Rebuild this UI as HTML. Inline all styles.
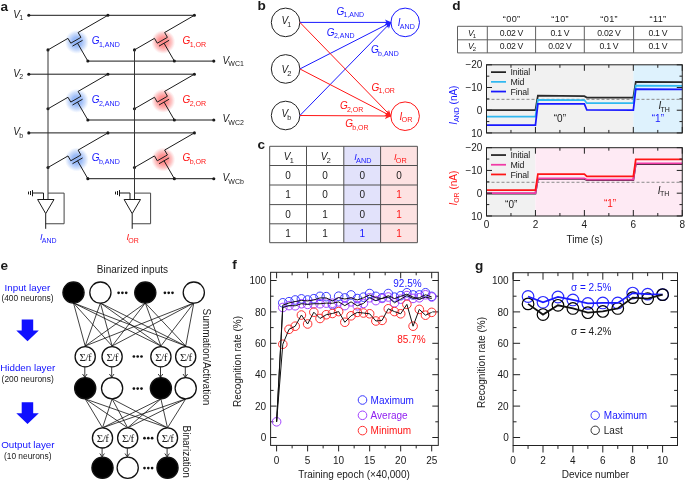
<!DOCTYPE html>
<html><head><meta charset="utf-8"><style>
html,body{margin:0;padding:0;background:#fff;}
body{width:685px;height:480px;overflow:hidden;position:relative;font-family:"Liberation Sans", sans-serif;}
svg{will-change:transform;}
svg text{font-family:"Liberation Sans", sans-serif;}
</style></head><body>
<svg width="685" height="480" viewBox="0 0 685 480" style="position:absolute;left:0;top:0">
<defs>
<radialGradient id="gb"><stop offset="0" stop-color="#8eb2f6" stop-opacity="1"/><stop offset="0.4" stop-color="#98b9f7" stop-opacity="0.95"/><stop offset="0.72" stop-color="#a8c4f8" stop-opacity="0.55"/><stop offset="1" stop-color="#b8d0fa" stop-opacity="0"/></radialGradient>
<radialGradient id="gr"><stop offset="0" stop-color="#ff8585" stop-opacity="1"/><stop offset="0.4" stop-color="#ff8f8f" stop-opacity="0.95"/><stop offset="0.72" stop-color="#fc9c9c" stop-opacity="0.55"/><stop offset="1" stop-color="#fcb4b4" stop-opacity="0"/></radialGradient>
<marker id="ab" viewBox="0 0 10 10" refX="9" refY="5" markerWidth="7.4" markerHeight="6.6" orient="auto-start-reverse" markerUnits="userSpaceOnUse"><path d="M0,0.5 L10,5 L0,9.5 L2.5,5 z" fill="#2020ff"/></marker>
<marker id="ar" viewBox="0 0 10 10" refX="9" refY="5" markerWidth="7.4" markerHeight="6.6" orient="auto-start-reverse" markerUnits="userSpaceOnUse"><path d="M0,0.5 L10,5 L0,9.5 L2.5,5 z" fill="#ff2020"/></marker>
<marker id="ak" viewBox="0 0 10 10" refX="9" refY="5" markerWidth="4" markerHeight="4" orient="auto" markerUnits="userSpaceOnUse"><path d="M0,0 L10,5 L0,10 L3,5 z" fill="#111"/></marker>
</defs>
<text x="0.4" y="10.6" font-size="13.6" fill="#1a1a1a" text-anchor="start" font-weight="bold" font-style="normal" >a</text>
<line x1="28.8" y1="15.3" x2="194.4" y2="15.3" stroke="#1a1a1a" stroke-width="1" />
<circle cx="28.8" cy="15.3" r="1.55" fill="#1a1a1a"/>
<circle cx="107.9" cy="15.3" r="1.55" fill="#1a1a1a"/>
<circle cx="194.4" cy="15.3" r="1.55" fill="#1a1a1a"/>
<circle cx="76.79" cy="41.92" r="12" fill="url(#gb)"/>
<polyline points="107.9,15.3 78.11,32.5 80.91,37.35 70.78,43.2 67.98,38.35 47.97,49.9" fill="none" stroke="#1a1a1a" stroke-width="1" />
<line x1="82.61" y1="40.29" x2="72.48" y2="46.14" stroke="#1a1a1a" stroke-width="1" />
<line x1="77.54" y1="43.22" x2="87.84" y2="61.06" stroke="#1a1a1a" stroke-width="1" />
<circle cx="163.29" cy="41.92" r="12" fill="url(#gr)"/>
<polyline points="194.4,15.3 164.61,32.5 167.41,37.35 157.28,43.2 154.48,38.35 134.47,49.9" fill="none" stroke="#1a1a1a" stroke-width="1" />
<line x1="169.11" y1="40.29" x2="158.98" y2="46.14" stroke="#1a1a1a" stroke-width="1" />
<line x1="164.04" y1="43.22" x2="174.34" y2="61.06" stroke="#1a1a1a" stroke-width="1" />
<line x1="87.84" y1="61.1" x2="213.8" y2="61.1" stroke="#1a1a1a" stroke-width="1" />
<circle cx="87.84" cy="61.06" r="1.55" fill="#1a1a1a"/>
<circle cx="174.34" cy="61.06" r="1.55" fill="#1a1a1a"/>
<circle cx="213.8" cy="61.1" r="1.55" fill="#1a1a1a"/>
<circle cx="47.97" cy="49.9" r="1.55" fill="#1a1a1a"/>
<circle cx="134.47" cy="49.9" r="1.55" fill="#1a1a1a"/>
<text x="13.2" y="17.6" font-size="10" fill="#1a1a1a" text-anchor="start" ><tspan font-style="italic">V</tspan><tspan font-size="7" dy="2.6" dx="-0.7">1</tspan></text>
<text x="91.8" y="43.6" font-size="10" fill="#1818ff" text-anchor="start" ><tspan font-style="italic">G</tspan><tspan font-size="7.1" dy="3.0" dx="-0.7">1,AND</tspan></text>
<text x="182.6" y="43.6" font-size="10" fill="#ff1515" text-anchor="start" ><tspan font-style="italic">G</tspan><tspan font-size="7.1" dy="3.0" dx="-0.7">1,OR</tspan></text>
<text x="222.4" y="63.5" font-size="10" fill="#1a1a1a" text-anchor="start" ><tspan font-style="italic">V</tspan><tspan font-size="7" dy="2.4" dx="-0.7">WC1</tspan></text>
<line x1="28.8" y1="74.2" x2="194.4" y2="74.2" stroke="#1a1a1a" stroke-width="1" />
<circle cx="28.8" cy="74.2" r="1.55" fill="#1a1a1a"/>
<circle cx="107.9" cy="74.2" r="1.55" fill="#1a1a1a"/>
<circle cx="194.4" cy="74.2" r="1.55" fill="#1a1a1a"/>
<circle cx="76.79" cy="100.82" r="12" fill="url(#gb)"/>
<polyline points="107.9,74.2 78.11,91.4 80.91,96.25 70.78,102.1 67.98,97.25 47.97,108.8" fill="none" stroke="#1a1a1a" stroke-width="1" />
<line x1="82.61" y1="99.19" x2="72.48" y2="105.04" stroke="#1a1a1a" stroke-width="1" />
<line x1="77.54" y1="102.12" x2="87.84" y2="119.96" stroke="#1a1a1a" stroke-width="1" />
<circle cx="163.29" cy="100.82" r="12" fill="url(#gr)"/>
<polyline points="194.4,74.2 164.61,91.4 167.41,96.25 157.28,102.1 154.48,97.25 134.47,108.8" fill="none" stroke="#1a1a1a" stroke-width="1" />
<line x1="169.11" y1="99.19" x2="158.98" y2="105.04" stroke="#1a1a1a" stroke-width="1" />
<line x1="164.04" y1="102.12" x2="174.34" y2="119.96" stroke="#1a1a1a" stroke-width="1" />
<line x1="87.84" y1="120" x2="213.8" y2="120" stroke="#1a1a1a" stroke-width="1" />
<circle cx="87.84" cy="119.96" r="1.55" fill="#1a1a1a"/>
<circle cx="174.34" cy="119.96" r="1.55" fill="#1a1a1a"/>
<circle cx="213.8" cy="120" r="1.55" fill="#1a1a1a"/>
<circle cx="47.97" cy="108.8" r="1.55" fill="#1a1a1a"/>
<circle cx="134.47" cy="108.8" r="1.55" fill="#1a1a1a"/>
<text x="13.2" y="76.5" font-size="10" fill="#1a1a1a" text-anchor="start" ><tspan font-style="italic">V</tspan><tspan font-size="7" dy="2.6" dx="-0.7">2</tspan></text>
<text x="91.8" y="102.5" font-size="10" fill="#1818ff" text-anchor="start" ><tspan font-style="italic">G</tspan><tspan font-size="7.1" dy="3.0" dx="-0.7">2,AND</tspan></text>
<text x="182.6" y="102.5" font-size="10" fill="#ff1515" text-anchor="start" ><tspan font-style="italic">G</tspan><tspan font-size="7.1" dy="3.0" dx="-0.7">2,OR</tspan></text>
<text x="222.4" y="122.4" font-size="10" fill="#1a1a1a" text-anchor="start" ><tspan font-style="italic">V</tspan><tspan font-size="7" dy="2.4" dx="-0.7">WC2</tspan></text>
<line x1="28.8" y1="132.9" x2="194.4" y2="132.9" stroke="#1a1a1a" stroke-width="1" />
<circle cx="28.8" cy="132.9" r="1.55" fill="#1a1a1a"/>
<circle cx="107.9" cy="132.9" r="1.55" fill="#1a1a1a"/>
<circle cx="194.4" cy="132.9" r="1.55" fill="#1a1a1a"/>
<circle cx="76.79" cy="159.52" r="12" fill="url(#gb)"/>
<polyline points="107.9,132.9 78.11,150.1 80.91,154.95 70.78,160.8 67.98,155.95 47.97,167.5" fill="none" stroke="#1a1a1a" stroke-width="1" />
<line x1="82.61" y1="157.89" x2="72.48" y2="163.74" stroke="#1a1a1a" stroke-width="1" />
<line x1="77.54" y1="160.82" x2="87.84" y2="178.66" stroke="#1a1a1a" stroke-width="1" />
<circle cx="163.29" cy="159.52" r="12" fill="url(#gr)"/>
<polyline points="194.4,132.9 164.61,150.1 167.41,154.95 157.28,160.8 154.48,155.95 134.47,167.5" fill="none" stroke="#1a1a1a" stroke-width="1" />
<line x1="169.11" y1="157.89" x2="158.98" y2="163.74" stroke="#1a1a1a" stroke-width="1" />
<line x1="164.04" y1="160.82" x2="174.34" y2="178.66" stroke="#1a1a1a" stroke-width="1" />
<line x1="87.84" y1="178.7" x2="213.8" y2="178.7" stroke="#1a1a1a" stroke-width="1" />
<circle cx="87.84" cy="178.66" r="1.55" fill="#1a1a1a"/>
<circle cx="174.34" cy="178.66" r="1.55" fill="#1a1a1a"/>
<circle cx="213.8" cy="178.7" r="1.55" fill="#1a1a1a"/>
<circle cx="47.97" cy="167.5" r="1.55" fill="#1a1a1a"/>
<circle cx="134.47" cy="167.5" r="1.55" fill="#1a1a1a"/>
<text x="13.2" y="135.2" font-size="10" fill="#1a1a1a" text-anchor="start" ><tspan font-style="italic">V</tspan><tspan font-size="7" dy="2.6" dx="-0.7">b</tspan></text>
<text x="91.8" y="161.2" font-size="10" fill="#1818ff" text-anchor="start" ><tspan font-style="italic">G</tspan><tspan font-size="7.1" dy="3.0" dx="-0.7">b,AND</tspan></text>
<text x="182.6" y="161.2" font-size="10" fill="#ff1515" text-anchor="start" ><tspan font-style="italic">G</tspan><tspan font-size="7.1" dy="3.0" dx="-0.7">b,OR</tspan></text>
<text x="222.4" y="181.1" font-size="10" fill="#1a1a1a" text-anchor="start" ><tspan font-style="italic">V</tspan><tspan font-size="7" dy="2.4" dx="-0.7">WCb</tspan></text>
<line x1="48" y1="50" x2="48" y2="199.5" stroke="#333" stroke-width="1" />
<polyline points="48,193.1 64.1,193.1 64.1,223.75 45.7,223.75" fill="none" stroke="#444" stroke-width="1" />
<polygon points="37.6,199.5 54,199.5 45.7,213.6" fill="#fff" stroke="#1a1a1a" stroke-width="1"/>
<line x1="45.7" y1="213.6" x2="45.7" y2="228.8" stroke="#1a1a1a" stroke-width="1" />
<polyline points="32.5,193 43.5,193 43.5,199.5" fill="none" stroke="#1a1a1a" stroke-width="1" />
<line x1="32.5" y1="190.1" x2="32.5" y2="196.3" stroke="#1a1a1a" stroke-width="1" />
<line x1="30.5" y1="191" x2="30.5" y2="195" stroke="#1a1a1a" stroke-width="1" />
<line x1="28.5" y1="191.6" x2="28.5" y2="194.4" stroke="#1a1a1a" stroke-width="1" />
<text x="39.9" y="240.2" font-size="9.2" fill="#1818ff" text-anchor="start" ><tspan font-style="italic">I</tspan><tspan font-size="7" dy="2.4" dx="-0.7">AND</tspan></text>
<line x1="134.5" y1="50" x2="134.5" y2="199.5" stroke="#333" stroke-width="1" />
<polyline points="134.5,193.1 150.6,193.1 150.6,223.75 132.2,223.75" fill="none" stroke="#444" stroke-width="1" />
<polygon points="124.1,199.5 140.5,199.5 132.2,213.6" fill="#fff" stroke="#1a1a1a" stroke-width="1"/>
<line x1="132.2" y1="213.6" x2="132.2" y2="228.8" stroke="#1a1a1a" stroke-width="1" />
<polyline points="119.5,193 130,193 130,199.5" fill="none" stroke="#1a1a1a" stroke-width="1" />
<line x1="119.5" y1="190.1" x2="119.5" y2="196.3" stroke="#1a1a1a" stroke-width="1" />
<line x1="117.5" y1="191" x2="117.5" y2="195" stroke="#1a1a1a" stroke-width="1" />
<line x1="115.5" y1="191.6" x2="115.5" y2="194.4" stroke="#1a1a1a" stroke-width="1" />
<text x="126.4" y="240.2" font-size="9.2" fill="#ff1515" text-anchor="start" ><tspan font-style="italic">I</tspan><tspan font-size="7" dy="2.4" dx="-0.7">OR</tspan></text>
<text x="257.4" y="10.3" font-size="13.6" fill="#1a1a1a" text-anchor="start" font-weight="bold" font-style="normal" >b</text>
<circle cx="285.6" cy="22.4" r="14.3" fill="none" stroke="#222" stroke-width="1"/>
<text x="281.4" y="24.2" font-size="10" fill="#1a1a1a" text-anchor="start" ><tspan font-style="italic">V</tspan><tspan font-size="7" dy="2.9" dx="-0.7">1</tspan></text>
<circle cx="285.6" cy="68.95" r="14.3" fill="none" stroke="#222" stroke-width="1"/>
<text x="281.4" y="72.65" font-size="10" fill="#1a1a1a" text-anchor="start" ><tspan font-style="italic">V</tspan><tspan font-size="7.6" dy="3.0" dx="-0.7">2</tspan></text>
<circle cx="285.6" cy="115.5" r="14.3" fill="none" stroke="#222" stroke-width="1"/>
<text x="281.4" y="117.3" font-size="10" fill="#1a1a1a" text-anchor="start" ><tspan font-style="italic">V</tspan><tspan font-size="7" dy="2.9" dx="-0.7">b</tspan></text>
<circle cx="405.2" cy="22.4" r="14.3" fill="none" stroke="#1818ff" stroke-width="1"/>
<circle cx="405.1" cy="116.2" r="14.3" fill="none" stroke="#ff1515" stroke-width="1"/>
<text x="397.7" y="25.8" font-size="10" fill="#1818ff" text-anchor="start" ><tspan font-style="italic">I</tspan><tspan font-size="7.1" dy="2.9" dx="-0.7">AND</tspan></text>
<text x="399.5" y="119.5" font-size="10" fill="#ff1515" text-anchor="start" ><tspan font-style="italic">I</tspan><tspan font-size="7.3" dy="2.9" dx="-0.7">OR</tspan></text>
<line x1="299.9" y1="22.4" x2="390.9" y2="22.4" stroke="#1818ff" stroke-width="1" marker-end="url(#ab)"/>
<line x1="299.9" y1="68.95" x2="390.9" y2="22.4" stroke="#1818ff" stroke-width="1" marker-end="url(#ab)"/>
<line x1="299.9" y1="115.5" x2="390.9" y2="22.4" stroke="#1818ff" stroke-width="1" marker-end="url(#ab)"/>
<line x1="299.9" y1="22.4" x2="390.9" y2="116.0" stroke="#ff1515" stroke-width="1" marker-end="url(#ar)"/>
<line x1="299.9" y1="68.95" x2="390.9" y2="116.0" stroke="#ff1515" stroke-width="1" marker-end="url(#ar)"/>
<line x1="299.9" y1="115.5" x2="390.9" y2="116.0" stroke="#ff1515" stroke-width="1" marker-end="url(#ar)"/>
<text x="336.4" y="14.9" font-size="10" fill="#1818ff" text-anchor="start" ><tspan font-style="italic">G</tspan><tspan font-size="7" dy="2.4" dx="-0.7">1,AND</tspan></text>
<text x="326.8" y="36" font-size="10" fill="#1818ff" text-anchor="start" ><tspan font-style="italic">G</tspan><tspan font-size="7" dy="2.4" dx="-0.7">2,AND</tspan></text>
<text x="371" y="53.4" font-size="10" fill="#1818ff" text-anchor="start" ><tspan font-style="italic">G</tspan><tspan font-size="7" dy="2.4" dx="-0.7">b,AND</tspan></text>
<text x="371.5" y="90.5" font-size="10" fill="#ff1515" text-anchor="start" ><tspan font-style="italic">G</tspan><tspan font-size="7" dy="2.4" dx="-0.7">1,OR</tspan></text>
<text x="339.9" y="109.4" font-size="10" fill="#ff1515" text-anchor="start" ><tspan font-style="italic">G</tspan><tspan font-size="7" dy="2.4" dx="-0.7">2,OR</tspan></text>
<text x="345.2" y="127.3" font-size="10" fill="#ff1515" text-anchor="start" ><tspan font-style="italic">G</tspan><tspan font-size="7" dy="2.4" dx="-0.7">b,OR</tspan></text>
<text x="257.4" y="149" font-size="13.6" fill="#1a1a1a" text-anchor="start" font-weight="bold" font-style="normal" >c</text>
<rect x="343.8" y="146.3" width="36.8" height="96.4" fill="#e2e2fb"/>
<rect x="380.6" y="146.3" width="36.8" height="96.4" fill="#fde2e2"/>
<line x1="269.7" y1="146.3" x2="269.7" y2="242.7" stroke="#505050" stroke-width="1" />
<line x1="306.5" y1="146.3" x2="306.5" y2="242.7" stroke="#505050" stroke-width="1" />
<line x1="343.8" y1="146.3" x2="343.8" y2="242.7" stroke="#505050" stroke-width="1" />
<line x1="380.6" y1="146.3" x2="380.6" y2="242.7" stroke="#505050" stroke-width="1" />
<line x1="417.4" y1="146.3" x2="417.4" y2="242.7" stroke="#505050" stroke-width="1" />
<line x1="269.7" y1="146.3" x2="417.4" y2="146.3" stroke="#505050" stroke-width="1" />
<line x1="269.7" y1="165.5" x2="417.4" y2="165.5" stroke="#505050" stroke-width="1" />
<line x1="269.7" y1="185" x2="417.4" y2="185" stroke="#505050" stroke-width="1" />
<line x1="269.7" y1="204.6" x2="417.4" y2="204.6" stroke="#505050" stroke-width="1" />
<line x1="269.7" y1="223.8" x2="417.4" y2="223.8" stroke="#505050" stroke-width="1" />
<line x1="269.7" y1="242.7" x2="417.4" y2="242.7" stroke="#505050" stroke-width="1" />
<text x="283.8" y="159.5" font-size="10" fill="#1a1a1a" text-anchor="start" ><tspan font-style="italic">V</tspan><tspan font-size="7.3" dy="3.3" dx="-0.7">1</tspan></text>
<text x="320.85" y="159.5" font-size="10" fill="#1a1a1a" text-anchor="start" ><tspan font-style="italic">V</tspan><tspan font-size="7.3" dy="3.3" dx="-0.7">2</tspan></text>
<text x="354.2" y="159.5" font-size="9.2" fill="#1818ff" text-anchor="start" ><tspan font-style="italic">I</tspan><tspan font-size="7.3" dy="3.1" dx="-0.7">AND</tspan></text>
<text x="394" y="159.5" font-size="9.2" fill="#ff1515" text-anchor="start" ><tspan font-style="italic">I</tspan><tspan font-size="7.3" dy="3.1" dx="-0.7">OR</tspan></text>
<text x="288.1" y="178.85" font-size="10" fill="#1a1a1a" text-anchor="middle" font-weight="normal" font-style="normal" >0</text>
<text x="325.15" y="178.85" font-size="10" fill="#1a1a1a" text-anchor="middle" font-weight="normal" font-style="normal" >0</text>
<text x="362.2" y="178.85" font-size="10" fill="#1a1a1a" text-anchor="middle" font-weight="normal" font-style="normal" >0</text>
<text x="399" y="178.85" font-size="10" fill="#1a1a1a" text-anchor="middle" font-weight="normal" font-style="normal" >0</text>
<text x="288.1" y="198.4" font-size="10" fill="#1a1a1a" text-anchor="middle" font-weight="normal" font-style="normal" >1</text>
<text x="325.15" y="198.4" font-size="10" fill="#1a1a1a" text-anchor="middle" font-weight="normal" font-style="normal" >0</text>
<text x="362.2" y="198.4" font-size="10" fill="#1a1a1a" text-anchor="middle" font-weight="normal" font-style="normal" >0</text>
<text x="399" y="198.4" font-size="10" fill="#ff1515" text-anchor="middle" font-weight="normal" font-style="normal" >1</text>
<text x="288.1" y="217.8" font-size="10" fill="#1a1a1a" text-anchor="middle" font-weight="normal" font-style="normal" >0</text>
<text x="325.15" y="217.8" font-size="10" fill="#1a1a1a" text-anchor="middle" font-weight="normal" font-style="normal" >1</text>
<text x="362.2" y="217.8" font-size="10" fill="#1a1a1a" text-anchor="middle" font-weight="normal" font-style="normal" >0</text>
<text x="399" y="217.8" font-size="10" fill="#ff1515" text-anchor="middle" font-weight="normal" font-style="normal" >1</text>
<text x="288.1" y="236.85" font-size="10" fill="#1a1a1a" text-anchor="middle" font-weight="normal" font-style="normal" >1</text>
<text x="325.15" y="236.85" font-size="10" fill="#1a1a1a" text-anchor="middle" font-weight="normal" font-style="normal" >1</text>
<text x="362.2" y="236.85" font-size="10" fill="#1818ff" text-anchor="middle" font-weight="normal" font-style="normal" >1</text>
<text x="399" y="236.85" font-size="10" fill="#ff1515" text-anchor="middle" font-weight="normal" font-style="normal" >1</text>
<text x="452.2" y="10.2" font-size="13.6" fill="#1a1a1a" text-anchor="start" font-weight="bold" font-style="normal" >d</text>
<line x1="457.5" y1="26.3" x2="457.5" y2="52.9" stroke="#606060" stroke-width="1" />
<line x1="487.3" y1="26.3" x2="487.3" y2="52.9" stroke="#606060" stroke-width="1" />
<line x1="535.6" y1="26.3" x2="535.6" y2="52.9" stroke="#606060" stroke-width="1" />
<line x1="584.3" y1="26.3" x2="584.3" y2="52.9" stroke="#606060" stroke-width="1" />
<line x1="633.6" y1="26.3" x2="633.6" y2="52.9" stroke="#606060" stroke-width="1" />
<line x1="682.1" y1="26.3" x2="682.1" y2="52.9" stroke="#606060" stroke-width="1" />
<line x1="457.5" y1="26.3" x2="682.1" y2="26.3" stroke="#606060" stroke-width="1" />
<line x1="457.5" y1="39.8" x2="682.1" y2="39.8" stroke="#606060" stroke-width="1" />
<line x1="457.5" y1="52.9" x2="682.1" y2="52.9" stroke="#606060" stroke-width="1" />
<text x="511.65" y="21.7" font-size="9.1" fill="#1a1a1a" text-anchor="middle" font-weight="normal" font-style="normal" letter-spacing="0.35">“00”</text>
<text x="560.15" y="21.7" font-size="9.1" fill="#1a1a1a" text-anchor="middle" font-weight="normal" font-style="normal" letter-spacing="0.35">“10”</text>
<text x="609.15" y="21.7" font-size="9.1" fill="#1a1a1a" text-anchor="middle" font-weight="normal" font-style="normal" letter-spacing="0.35">“01”</text>
<text x="658.05" y="21.7" font-size="9.1" fill="#1a1a1a" text-anchor="middle" font-weight="normal" font-style="normal" letter-spacing="0.35">“11”</text>
<text x="467.9" y="35.9" font-size="8.5" fill="#1a1a1a" text-anchor="start" ><tspan font-style="italic">V</tspan><tspan font-size="6" dy="2" dx="-0.7">1</tspan></text>
<text x="467.9" y="49.2" font-size="8.5" fill="#1a1a1a" text-anchor="start" ><tspan font-style="italic">V</tspan><tspan font-size="6" dy="2" dx="-0.7">2</tspan></text>
<text x="511.45" y="35.6" font-size="8.7" fill="#1a1a1a" text-anchor="middle" font-weight="normal" font-style="normal" letter-spacing="-0.3">0.02 V</text>
<text x="559.95" y="35.6" font-size="8.7" fill="#1a1a1a" text-anchor="middle" font-weight="normal" font-style="normal" letter-spacing="-0.3">0.1 V</text>
<text x="608.95" y="35.6" font-size="8.7" fill="#1a1a1a" text-anchor="middle" font-weight="normal" font-style="normal" letter-spacing="-0.3">0.02 V</text>
<text x="657.85" y="35.6" font-size="8.7" fill="#1a1a1a" text-anchor="middle" font-weight="normal" font-style="normal" letter-spacing="-0.3">0.1 V</text>
<text x="511.45" y="48.9" font-size="8.7" fill="#1a1a1a" text-anchor="middle" font-weight="normal" font-style="normal" letter-spacing="-0.3">0.02 V</text>
<text x="559.95" y="48.9" font-size="8.7" fill="#1a1a1a" text-anchor="middle" font-weight="normal" font-style="normal" letter-spacing="-0.3">0.02 V</text>
<text x="608.95" y="48.9" font-size="8.7" fill="#1a1a1a" text-anchor="middle" font-weight="normal" font-style="normal" letter-spacing="-0.3">0.1 V</text>
<text x="657.85" y="48.9" font-size="8.7" fill="#1a1a1a" text-anchor="middle" font-weight="normal" font-style="normal" letter-spacing="-0.3">0.1 V</text>
<rect x="486.5" y="64.8" width="146.82" height="68.15" fill="#f1f1f1"/>
<rect x="633.32" y="64.8" width="48.94" height="68.15" fill="#def2fd"/>
<line x1="486.5" y1="99.33" x2="682.26" y2="99.33" stroke="#8a8a8a" stroke-width="1" stroke-dasharray="3,2"/>
<polyline points="486.5,110.23 535.44,110.23 537.89,95.69 584.38,96.15 586.83,97.51 633.32,97.51 635.77,81.83 682.26,82.06" fill="none" stroke="#2a2a2a" stroke-width="1.75" stroke-linejoin="miter"/>
<polyline points="486.5,116.59 535.44,116.59 537.89,99.78 584.38,100.01 586.83,103.19 633.32,103.19 635.77,85.7 682.26,85.92" fill="none" stroke="#30b8f0" stroke-width="1.75" stroke-linejoin="miter"/>
<polyline points="486.5,125 535.44,125 537.89,103.87 584.38,103.87 586.83,110 633.32,110.23 635.77,89.1 682.26,89.33" fill="none" stroke="#1818ff" stroke-width="1.75" stroke-linejoin="miter"/>
<rect x="486.5" y="64.8" width="195.76" height="68.15" fill="none" stroke="#222" stroke-width="1"/>
<line x1="486.5" y1="132.95" x2="486.5" y2="126.95" stroke="#222" stroke-width="1" />
<line x1="486.5" y1="64.8" x2="486.5" y2="70.8" stroke="#222" stroke-width="1" />
<line x1="510.97" y1="132.95" x2="510.97" y2="129.95" stroke="#222" stroke-width="1" />
<line x1="510.97" y1="64.8" x2="510.97" y2="67.8" stroke="#222" stroke-width="1" />
<line x1="535.44" y1="132.95" x2="535.44" y2="126.95" stroke="#222" stroke-width="1" />
<line x1="535.44" y1="64.8" x2="535.44" y2="70.8" stroke="#222" stroke-width="1" />
<line x1="559.91" y1="132.95" x2="559.91" y2="129.95" stroke="#222" stroke-width="1" />
<line x1="559.91" y1="64.8" x2="559.91" y2="67.8" stroke="#222" stroke-width="1" />
<line x1="584.38" y1="132.95" x2="584.38" y2="126.95" stroke="#222" stroke-width="1" />
<line x1="584.38" y1="64.8" x2="584.38" y2="70.8" stroke="#222" stroke-width="1" />
<line x1="608.85" y1="132.95" x2="608.85" y2="129.95" stroke="#222" stroke-width="1" />
<line x1="608.85" y1="64.8" x2="608.85" y2="67.8" stroke="#222" stroke-width="1" />
<line x1="633.32" y1="132.95" x2="633.32" y2="126.95" stroke="#222" stroke-width="1" />
<line x1="633.32" y1="64.8" x2="633.32" y2="70.8" stroke="#222" stroke-width="1" />
<line x1="657.79" y1="132.95" x2="657.79" y2="129.95" stroke="#222" stroke-width="1" />
<line x1="657.79" y1="64.8" x2="657.79" y2="67.8" stroke="#222" stroke-width="1" />
<line x1="682.26" y1="132.95" x2="682.26" y2="126.95" stroke="#222" stroke-width="1" />
<line x1="682.26" y1="64.8" x2="682.26" y2="70.8" stroke="#222" stroke-width="1" />
<line x1="486.5" y1="64.8" x2="492" y2="64.8" stroke="#222" stroke-width="1" />
<line x1="682.26" y1="64.8" x2="676.76" y2="64.8" stroke="#222" stroke-width="1" />
<line x1="486.5" y1="76.16" x2="489.3" y2="76.16" stroke="#222" stroke-width="1" />
<line x1="682.26" y1="76.16" x2="679.46" y2="76.16" stroke="#222" stroke-width="1" />
<line x1="486.5" y1="87.51" x2="492" y2="87.51" stroke="#222" stroke-width="1" />
<line x1="682.26" y1="87.51" x2="676.76" y2="87.51" stroke="#222" stroke-width="1" />
<line x1="486.5" y1="98.87" x2="489.3" y2="98.87" stroke="#222" stroke-width="1" />
<line x1="682.26" y1="98.87" x2="679.46" y2="98.87" stroke="#222" stroke-width="1" />
<line x1="486.5" y1="110.23" x2="492" y2="110.23" stroke="#222" stroke-width="1" />
<line x1="682.26" y1="110.23" x2="676.76" y2="110.23" stroke="#222" stroke-width="1" />
<line x1="486.5" y1="121.59" x2="489.3" y2="121.59" stroke="#222" stroke-width="1" />
<line x1="682.26" y1="121.59" x2="679.46" y2="121.59" stroke="#222" stroke-width="1" />
<line x1="486.5" y1="132.95" x2="492" y2="132.95" stroke="#222" stroke-width="1" />
<line x1="682.26" y1="132.95" x2="676.76" y2="132.95" stroke="#222" stroke-width="1" />
<text x="482.4" y="68.4" font-size="10" fill="#1a1a1a" text-anchor="end" font-weight="normal" font-style="normal" >−20</text>
<text x="482.4" y="91.11" font-size="10" fill="#1a1a1a" text-anchor="end" font-weight="normal" font-style="normal" >−10</text>
<text x="482.4" y="113.83" font-size="10" fill="#1a1a1a" text-anchor="end" font-weight="normal" font-style="normal" >0</text>
<text x="482.4" y="136.55" font-size="10" fill="#1a1a1a" text-anchor="end" font-weight="normal" font-style="normal" >10</text>
<line x1="491" y1="72.15" x2="506" y2="72.15" stroke="#222" stroke-width="1.75" />
<text x="510.5" y="75.25" font-size="8.8" fill="#1a1a1a" text-anchor="start" font-weight="normal" font-style="normal" letter-spacing="-0.15">Initial</text>
<line x1="491" y1="81.85" x2="506" y2="81.85" stroke="#30b8f0" stroke-width="1.75" />
<text x="510.5" y="84.95" font-size="8.8" fill="#1a1a1a" text-anchor="start" font-weight="normal" font-style="normal" letter-spacing="-0.15">Mid</text>
<line x1="491" y1="91.55" x2="506" y2="91.55" stroke="#1818ff" stroke-width="1.75" />
<text x="510.5" y="94.65" font-size="8.8" fill="#1a1a1a" text-anchor="start" font-weight="normal" font-style="normal" letter-spacing="-0.15">Final</text>
<text x="559.9" y="121.5" font-size="10" fill="#1a1a1a" text-anchor="middle" font-weight="normal" font-style="normal" >“0”</text>
<text x="657.9" y="121.5" font-size="10" fill="#1818ff" text-anchor="middle" font-weight="normal" font-style="normal" >“1”</text>
<text x="658.4" y="109.4" font-size="10" fill="#1a1a1a" text-anchor="start" ><tspan font-style="italic">I</tspan><tspan font-size="7" dy="2.4" dx="-0.7">TH</tspan></text>
<text transform="translate(456.9,105.17) rotate(-90)" font-size="10" fill="#1818ff" text-anchor="middle"><tspan font-style="italic">I</tspan><tspan font-size="7" dy="2.4">AND</tspan><tspan dy="-2.4"> (nA)</tspan></text>
<rect x="486.5" y="147.7" width="48.94" height="68.3" fill="#f1f1f1"/>
<rect x="535.44" y="147.7" width="146.82" height="68.3" fill="#feeaf4"/>
<line x1="486.5" y1="182.27" x2="682.26" y2="182.27" stroke="#8a8a8a" stroke-width="1" stroke-dasharray="3,2"/>
<polyline points="486.5,193.54 535.44,193.54 537.89,178.86 584.38,178.86 586.83,180.22 633.32,180.22 635.77,164.06 682.26,164.06" fill="none" stroke="#2a2a2a" stroke-width="1.75" stroke-linejoin="miter"/>
<polyline points="486.5,193.09 535.44,193.09 537.89,178.29 584.38,178.29 586.83,179.65 633.32,179.65 635.77,163.49 682.26,163.49" fill="none" stroke="#f03aa6" stroke-width="1.75" stroke-linejoin="miter"/>
<polyline points="486.5,190.24 535.44,190.24 537.89,174.08 584.38,174.08 586.83,176.35 633.32,176.35 635.77,159.28 682.26,159.28" fill="none" stroke="#ff1515" stroke-width="1.75" stroke-linejoin="miter"/>
<rect x="486.5" y="147.7" width="195.76" height="68.3" fill="none" stroke="#222" stroke-width="1"/>
<line x1="486.5" y1="216" x2="486.5" y2="210" stroke="#222" stroke-width="1" />
<line x1="486.5" y1="147.7" x2="486.5" y2="153.7" stroke="#222" stroke-width="1" />
<line x1="510.97" y1="216" x2="510.97" y2="213" stroke="#222" stroke-width="1" />
<line x1="510.97" y1="147.7" x2="510.97" y2="150.7" stroke="#222" stroke-width="1" />
<line x1="535.44" y1="216" x2="535.44" y2="210" stroke="#222" stroke-width="1" />
<line x1="535.44" y1="147.7" x2="535.44" y2="153.7" stroke="#222" stroke-width="1" />
<line x1="559.91" y1="216" x2="559.91" y2="213" stroke="#222" stroke-width="1" />
<line x1="559.91" y1="147.7" x2="559.91" y2="150.7" stroke="#222" stroke-width="1" />
<line x1="584.38" y1="216" x2="584.38" y2="210" stroke="#222" stroke-width="1" />
<line x1="584.38" y1="147.7" x2="584.38" y2="153.7" stroke="#222" stroke-width="1" />
<line x1="608.85" y1="216" x2="608.85" y2="213" stroke="#222" stroke-width="1" />
<line x1="608.85" y1="147.7" x2="608.85" y2="150.7" stroke="#222" stroke-width="1" />
<line x1="633.32" y1="216" x2="633.32" y2="210" stroke="#222" stroke-width="1" />
<line x1="633.32" y1="147.7" x2="633.32" y2="153.7" stroke="#222" stroke-width="1" />
<line x1="657.79" y1="216" x2="657.79" y2="213" stroke="#222" stroke-width="1" />
<line x1="657.79" y1="147.7" x2="657.79" y2="150.7" stroke="#222" stroke-width="1" />
<line x1="682.26" y1="216" x2="682.26" y2="210" stroke="#222" stroke-width="1" />
<line x1="682.26" y1="147.7" x2="682.26" y2="153.7" stroke="#222" stroke-width="1" />
<line x1="486.5" y1="147.67" x2="492" y2="147.67" stroke="#222" stroke-width="1" />
<line x1="682.26" y1="147.67" x2="676.76" y2="147.67" stroke="#222" stroke-width="1" />
<line x1="486.5" y1="159.05" x2="489.3" y2="159.05" stroke="#222" stroke-width="1" />
<line x1="682.26" y1="159.05" x2="679.46" y2="159.05" stroke="#222" stroke-width="1" />
<line x1="486.5" y1="170.43" x2="492" y2="170.43" stroke="#222" stroke-width="1" />
<line x1="682.26" y1="170.43" x2="676.76" y2="170.43" stroke="#222" stroke-width="1" />
<line x1="486.5" y1="181.82" x2="489.3" y2="181.82" stroke="#222" stroke-width="1" />
<line x1="682.26" y1="181.82" x2="679.46" y2="181.82" stroke="#222" stroke-width="1" />
<line x1="486.5" y1="193.2" x2="492" y2="193.2" stroke="#222" stroke-width="1" />
<line x1="682.26" y1="193.2" x2="676.76" y2="193.2" stroke="#222" stroke-width="1" />
<line x1="486.5" y1="204.58" x2="489.3" y2="204.58" stroke="#222" stroke-width="1" />
<line x1="682.26" y1="204.58" x2="679.46" y2="204.58" stroke="#222" stroke-width="1" />
<line x1="486.5" y1="215.97" x2="492" y2="215.97" stroke="#222" stroke-width="1" />
<line x1="682.26" y1="215.97" x2="676.76" y2="215.97" stroke="#222" stroke-width="1" />
<text x="482.4" y="151.27" font-size="10" fill="#1a1a1a" text-anchor="end" font-weight="normal" font-style="normal" >−20</text>
<text x="482.4" y="174.03" font-size="10" fill="#1a1a1a" text-anchor="end" font-weight="normal" font-style="normal" >−10</text>
<text x="482.4" y="196.8" font-size="10" fill="#1a1a1a" text-anchor="end" font-weight="normal" font-style="normal" >0</text>
<text x="482.4" y="219.57" font-size="10" fill="#1a1a1a" text-anchor="end" font-weight="normal" font-style="normal" >10</text>
<text x="486.5" y="228.3" font-size="10" fill="#1a1a1a" text-anchor="middle" font-weight="normal" font-style="normal" >0</text>
<text x="535.44" y="228.3" font-size="10" fill="#1a1a1a" text-anchor="middle" font-weight="normal" font-style="normal" >2</text>
<text x="584.38" y="228.3" font-size="10" fill="#1a1a1a" text-anchor="middle" font-weight="normal" font-style="normal" >4</text>
<text x="633.32" y="228.3" font-size="10" fill="#1a1a1a" text-anchor="middle" font-weight="normal" font-style="normal" >6</text>
<text x="682.26" y="228.3" font-size="10" fill="#1a1a1a" text-anchor="middle" font-weight="normal" font-style="normal" >8</text>
<line x1="491" y1="155.05" x2="506" y2="155.05" stroke="#222" stroke-width="1.75" />
<text x="510.5" y="158.15" font-size="8.8" fill="#1a1a1a" text-anchor="start" font-weight="normal" font-style="normal" letter-spacing="-0.15">Initial</text>
<line x1="491" y1="164.75" x2="506" y2="164.75" stroke="#f03aa6" stroke-width="1.75" />
<text x="510.5" y="167.85" font-size="8.8" fill="#1a1a1a" text-anchor="start" font-weight="normal" font-style="normal" letter-spacing="-0.15">Mid</text>
<line x1="491" y1="174.45" x2="506" y2="174.45" stroke="#ff1515" stroke-width="1.75" />
<text x="510.5" y="177.55" font-size="8.8" fill="#1a1a1a" text-anchor="start" font-weight="normal" font-style="normal" letter-spacing="-0.15">Final</text>
<text x="511.2" y="207.5" font-size="10" fill="#1a1a1a" text-anchor="middle" font-weight="normal" font-style="normal" >“0”</text>
<text x="610" y="207.4" font-size="10" fill="#ff1515" text-anchor="middle" font-weight="normal" font-style="normal" >“1”</text>
<text x="657.8" y="193.5" font-size="10" fill="#1a1a1a" text-anchor="start" ><tspan font-style="italic">I</tspan><tspan font-size="7" dy="2.4" dx="-0.7">TH</tspan></text>
<text transform="translate(456.9,188.15) rotate(-90)" font-size="10" fill="#ff1515" text-anchor="middle"><tspan font-style="italic">I</tspan><tspan font-size="7" dy="2.4">OR</tspan><tspan dy="-2.4"> (nA)</tspan></text>
<text x="584.6" y="242.5" font-size="10" fill="#1a1a1a" text-anchor="middle" font-weight="normal" font-style="normal" >Time (s)</text>
<text x="0.6" y="269.8" font-size="13.6" fill="#1a1a1a" text-anchor="start" font-weight="bold" font-style="normal" >e</text>
<text x="27.4" y="291.2" font-size="9.8" fill="#1010ff" text-anchor="middle" font-weight="normal" font-style="normal" >Input layer</text>
<text x="27.5" y="301" font-size="8.4" fill="#1a1a1a" text-anchor="middle" font-weight="normal" font-style="normal" >(400 neurons)</text>
<text x="27.7" y="370.9" font-size="9.8" fill="#1010ff" text-anchor="middle" font-weight="normal" font-style="normal" >Hidden layer</text>
<text x="27.7" y="382" font-size="8.4" fill="#1a1a1a" text-anchor="middle" font-weight="normal" font-style="normal" >(200 neurons)</text>
<text x="27.9" y="447.9" font-size="9.8" fill="#1010ff" text-anchor="middle" font-weight="normal" font-style="normal" >Output layer</text>
<text x="27.7" y="459.3" font-size="8.4" fill="#1a1a1a" text-anchor="middle" font-weight="normal" font-style="normal" >(10 neurons)</text>
<polygon points="21.7,319.5 33.2,319.5 33.2,330.5 38.8,330.5 27.5,341.3 16.3,330.5 21.7,330.5" fill="#1010ff"/>
<polygon points="21.7,402.2 33.2,402.2 33.2,413.2 38.8,413.2 27.5,424 16.3,413.2 21.7,413.2" fill="#1010ff"/>
<text x="132.4" y="272.8" font-size="10" fill="#1a1a1a" text-anchor="middle" font-weight="normal" font-style="normal" >Binarized inputs</text>
<line x1="73.5" y1="303" x2="85.2" y2="346" stroke="#111" stroke-width="0.8" />
<line x1="73.5" y1="303" x2="112.1" y2="346" stroke="#111" stroke-width="0.8" />
<line x1="73.5" y1="303" x2="160.9" y2="346" stroke="#111" stroke-width="0.8" />
<line x1="73.5" y1="303" x2="185.7" y2="346" stroke="#111" stroke-width="0.8" />
<line x1="100.4" y1="303" x2="85.2" y2="346" stroke="#111" stroke-width="0.8" />
<line x1="100.4" y1="303" x2="112.1" y2="346" stroke="#111" stroke-width="0.8" />
<line x1="100.4" y1="303" x2="160.9" y2="346" stroke="#111" stroke-width="0.8" />
<line x1="100.4" y1="303" x2="185.7" y2="346" stroke="#111" stroke-width="0.8" />
<line x1="145.3" y1="303" x2="85.2" y2="346" stroke="#111" stroke-width="0.8" />
<line x1="145.3" y1="303" x2="112.1" y2="346" stroke="#111" stroke-width="0.8" />
<line x1="145.3" y1="303" x2="160.9" y2="346" stroke="#111" stroke-width="0.8" />
<line x1="145.3" y1="303" x2="185.7" y2="346" stroke="#111" stroke-width="0.8" />
<line x1="193.8" y1="303" x2="85.2" y2="346" stroke="#111" stroke-width="0.8" />
<line x1="193.8" y1="303" x2="112.1" y2="346" stroke="#111" stroke-width="0.8" />
<line x1="193.8" y1="303" x2="160.9" y2="346" stroke="#111" stroke-width="0.8" />
<line x1="193.8" y1="303" x2="185.7" y2="346" stroke="#111" stroke-width="0.8" />
<line x1="85.2" y1="398.9" x2="102.5" y2="427.8" stroke="#111" stroke-width="0.8" />
<line x1="85.2" y1="398.9" x2="127.7" y2="427.8" stroke="#111" stroke-width="0.8" />
<line x1="85.2" y1="398.9" x2="167.5" y2="427.8" stroke="#111" stroke-width="0.8" />
<line x1="112.1" y1="398.9" x2="102.5" y2="427.8" stroke="#111" stroke-width="0.8" />
<line x1="112.1" y1="398.9" x2="127.7" y2="427.8" stroke="#111" stroke-width="0.8" />
<line x1="112.1" y1="398.9" x2="167.5" y2="427.8" stroke="#111" stroke-width="0.8" />
<line x1="160.9" y1="398.9" x2="102.5" y2="427.8" stroke="#111" stroke-width="0.8" />
<line x1="160.9" y1="398.9" x2="127.7" y2="427.8" stroke="#111" stroke-width="0.8" />
<line x1="160.9" y1="398.9" x2="167.5" y2="427.8" stroke="#111" stroke-width="0.8" />
<line x1="185.7" y1="398.9" x2="102.5" y2="427.8" stroke="#111" stroke-width="0.8" />
<line x1="185.7" y1="398.9" x2="127.7" y2="427.8" stroke="#111" stroke-width="0.8" />
<line x1="185.7" y1="398.9" x2="167.5" y2="427.8" stroke="#111" stroke-width="0.8" />
<circle cx="73.5" cy="292.6" r="10.6" fill="#000" stroke="#111" stroke-width="1.3"/>
<circle cx="100.4" cy="292.6" r="10.6" fill="#fff" stroke="#111" stroke-width="1.3"/>
<circle cx="145.3" cy="292.6" r="10.6" fill="#000" stroke="#111" stroke-width="1.3"/>
<circle cx="193.8" cy="292.6" r="10.6" fill="#fff" stroke="#111" stroke-width="1.3"/>
<circle cx="118.6" cy="292.8" r="1.35" fill="#111"/>
<circle cx="122.4" cy="292.8" r="1.35" fill="#111"/>
<circle cx="126.2" cy="292.8" r="1.35" fill="#111"/>
<circle cx="164.9" cy="292.8" r="1.35" fill="#111"/>
<circle cx="168.7" cy="292.8" r="1.35" fill="#111"/>
<circle cx="172.5" cy="292.8" r="1.35" fill="#111"/>
<circle cx="85.2" cy="356.7" r="10.1" fill="#fff" stroke="#111" stroke-width="1.3"/>
<text x="85.3" y="360.6" font-size="11" fill="#222" text-anchor="middle" style="font-family:'Liberation Serif', serif" letter-spacing="-0.5">Σ/f</text>
<circle cx="112.1" cy="356.7" r="10.1" fill="#fff" stroke="#111" stroke-width="1.3"/>
<text x="112.2" y="360.6" font-size="11" fill="#222" text-anchor="middle" style="font-family:'Liberation Serif', serif" letter-spacing="-0.5">Σ/f</text>
<circle cx="160.9" cy="356.7" r="10.1" fill="#fff" stroke="#111" stroke-width="1.3"/>
<text x="161" y="360.6" font-size="11" fill="#222" text-anchor="middle" style="font-family:'Liberation Serif', serif" letter-spacing="-0.5">Σ/f</text>
<circle cx="185.7" cy="356.7" r="10.1" fill="#fff" stroke="#111" stroke-width="1.3"/>
<text x="185.8" y="360.6" font-size="11" fill="#222" text-anchor="middle" style="font-family:'Liberation Serif', serif" letter-spacing="-0.5">Σ/f</text>
<circle cx="133.9" cy="356.5" r="1.35" fill="#111"/>
<circle cx="137.7" cy="356.5" r="1.35" fill="#111"/>
<circle cx="141.5" cy="356.5" r="1.35" fill="#111"/>
<line x1="84.8" y1="366.8" x2="84.8" y2="377.3" stroke="#222" stroke-width="0.9" />
<polyline points="82.5,374 84.8,377.3 87.1,374" fill="none" stroke="#222" stroke-width="0.9" />
<circle cx="85.2" cy="388.3" r="10.6" fill="#000" stroke="#111" stroke-width="1.3"/>
<line x1="111.7" y1="366.8" x2="111.7" y2="377.3" stroke="#222" stroke-width="0.9" />
<polyline points="109.4,374 111.7,377.3 114,374" fill="none" stroke="#222" stroke-width="0.9" />
<circle cx="112.1" cy="388.3" r="10.6" fill="#fff" stroke="#111" stroke-width="1.3"/>
<line x1="160.5" y1="366.8" x2="160.5" y2="377.3" stroke="#222" stroke-width="0.9" />
<polyline points="158.2,374 160.5,377.3 162.8,374" fill="none" stroke="#222" stroke-width="0.9" />
<circle cx="160.9" cy="388.3" r="10.6" fill="#000" stroke="#111" stroke-width="1.3"/>
<line x1="185.3" y1="366.8" x2="185.3" y2="377.3" stroke="#222" stroke-width="0.9" />
<polyline points="183,374 185.3,377.3 187.6,374" fill="none" stroke="#222" stroke-width="0.9" />
<circle cx="185.7" cy="388.3" r="10.6" fill="#fff" stroke="#111" stroke-width="1.3"/>
<circle cx="133.9" cy="388.6" r="1.35" fill="#111"/>
<circle cx="137.7" cy="388.6" r="1.35" fill="#111"/>
<circle cx="141.5" cy="388.6" r="1.35" fill="#111"/>
<circle cx="102.5" cy="437.9" r="10.1" fill="#fff" stroke="#111" stroke-width="1.3"/>
<text x="102.6" y="441.8" font-size="11" fill="#222" text-anchor="middle" style="font-family:'Liberation Serif', serif" letter-spacing="-0.5">Σ/f</text>
<circle cx="127.7" cy="437.9" r="10.1" fill="#fff" stroke="#111" stroke-width="1.3"/>
<text x="127.8" y="441.8" font-size="11" fill="#222" text-anchor="middle" style="font-family:'Liberation Serif', serif" letter-spacing="-0.5">Σ/f</text>
<circle cx="167.5" cy="437.9" r="10.1" fill="#fff" stroke="#111" stroke-width="1.3"/>
<text x="167.6" y="441.8" font-size="11" fill="#222" text-anchor="middle" style="font-family:'Liberation Serif', serif" letter-spacing="-0.5">Σ/f</text>
<circle cx="144.5" cy="438.2" r="1.35" fill="#111"/>
<circle cx="148.3" cy="438.2" r="1.35" fill="#111"/>
<circle cx="152.1" cy="438.2" r="1.35" fill="#111"/>
<line x1="102.1" y1="448" x2="102.1" y2="456.8" stroke="#222" stroke-width="0.9" />
<polyline points="99.8,453.5 102.1,456.8 104.4,453.5" fill="none" stroke="#222" stroke-width="0.9" />
<circle cx="102.5" cy="467.8" r="10.6" fill="#000" stroke="#111" stroke-width="1.3"/>
<line x1="127.3" y1="448" x2="127.3" y2="456.8" stroke="#222" stroke-width="0.9" />
<polyline points="125,453.5 127.3,456.8 129.6,453.5" fill="none" stroke="#222" stroke-width="0.9" />
<circle cx="127.7" cy="467.8" r="10.6" fill="#fff" stroke="#111" stroke-width="1.3"/>
<line x1="167.1" y1="448" x2="167.1" y2="456.8" stroke="#222" stroke-width="0.9" />
<polyline points="164.8,453.5 167.1,456.8 169.4,453.5" fill="none" stroke="#222" stroke-width="0.9" />
<circle cx="167.5" cy="467.8" r="10.6" fill="#000" stroke="#111" stroke-width="1.3"/>
<circle cx="144.5" cy="468.1" r="1.35" fill="#111"/>
<circle cx="148.3" cy="468.1" r="1.35" fill="#111"/>
<circle cx="152.1" cy="468.1" r="1.35" fill="#111"/>
<text transform="translate(203.4,308.6) rotate(90)" font-size="10" fill="#1a1a1a">Summation/Activation</text>
<text transform="translate(182.9,425.6) rotate(90)" font-size="10" fill="#1a1a1a">Binarization</text>
<text x="232.2" y="269.4" font-size="13.6" fill="#1a1a1a" text-anchor="start" font-weight="bold" font-style="normal" >f</text>
<rect x="270.6" y="272.3" width="167.7" height="173.1" fill="none" stroke="#222" stroke-width="1"/>
<line x1="270.6" y1="437.5" x2="276.6" y2="437.5" stroke="#222" stroke-width="1" />
<line x1="438.3" y1="437.5" x2="432.3" y2="437.5" stroke="#222" stroke-width="1" />
<line x1="270.6" y1="421.8" x2="273.6" y2="421.8" stroke="#222" stroke-width="1" />
<line x1="438.3" y1="421.8" x2="435.3" y2="421.8" stroke="#222" stroke-width="1" />
<line x1="270.6" y1="406.1" x2="276.6" y2="406.1" stroke="#222" stroke-width="1" />
<line x1="438.3" y1="406.1" x2="432.3" y2="406.1" stroke="#222" stroke-width="1" />
<line x1="270.6" y1="390.4" x2="273.6" y2="390.4" stroke="#222" stroke-width="1" />
<line x1="438.3" y1="390.4" x2="435.3" y2="390.4" stroke="#222" stroke-width="1" />
<line x1="270.6" y1="374.7" x2="276.6" y2="374.7" stroke="#222" stroke-width="1" />
<line x1="438.3" y1="374.7" x2="432.3" y2="374.7" stroke="#222" stroke-width="1" />
<line x1="270.6" y1="359" x2="273.6" y2="359" stroke="#222" stroke-width="1" />
<line x1="438.3" y1="359" x2="435.3" y2="359" stroke="#222" stroke-width="1" />
<line x1="270.6" y1="343.3" x2="276.6" y2="343.3" stroke="#222" stroke-width="1" />
<line x1="438.3" y1="343.3" x2="432.3" y2="343.3" stroke="#222" stroke-width="1" />
<line x1="270.6" y1="327.6" x2="273.6" y2="327.6" stroke="#222" stroke-width="1" />
<line x1="438.3" y1="327.6" x2="435.3" y2="327.6" stroke="#222" stroke-width="1" />
<line x1="270.6" y1="311.9" x2="276.6" y2="311.9" stroke="#222" stroke-width="1" />
<line x1="438.3" y1="311.9" x2="432.3" y2="311.9" stroke="#222" stroke-width="1" />
<line x1="270.6" y1="296.2" x2="273.6" y2="296.2" stroke="#222" stroke-width="1" />
<line x1="438.3" y1="296.2" x2="435.3" y2="296.2" stroke="#222" stroke-width="1" />
<line x1="270.6" y1="280.5" x2="276.6" y2="280.5" stroke="#222" stroke-width="1" />
<line x1="438.3" y1="280.5" x2="432.3" y2="280.5" stroke="#222" stroke-width="1" />
<line x1="276.6" y1="445.4" x2="276.6" y2="451.4" stroke="#222" stroke-width="1" />
<line x1="276.6" y1="272.3" x2="276.6" y2="278.3" stroke="#222" stroke-width="1" />
<line x1="307.62" y1="445.4" x2="307.62" y2="451.4" stroke="#222" stroke-width="1" />
<line x1="307.62" y1="272.3" x2="307.62" y2="278.3" stroke="#222" stroke-width="1" />
<line x1="338.64" y1="445.4" x2="338.64" y2="451.4" stroke="#222" stroke-width="1" />
<line x1="338.64" y1="272.3" x2="338.64" y2="278.3" stroke="#222" stroke-width="1" />
<line x1="369.66" y1="445.4" x2="369.66" y2="451.4" stroke="#222" stroke-width="1" />
<line x1="369.66" y1="272.3" x2="369.66" y2="278.3" stroke="#222" stroke-width="1" />
<line x1="400.68" y1="445.4" x2="400.68" y2="451.4" stroke="#222" stroke-width="1" />
<line x1="400.68" y1="272.3" x2="400.68" y2="278.3" stroke="#222" stroke-width="1" />
<line x1="431.7" y1="445.4" x2="431.7" y2="451.4" stroke="#222" stroke-width="1" />
<line x1="431.7" y1="272.3" x2="431.7" y2="278.3" stroke="#222" stroke-width="1" />
<line x1="292.11" y1="445.4" x2="292.11" y2="448.4" stroke="#222" stroke-width="1" />
<line x1="292.11" y1="272.3" x2="292.11" y2="275.3" stroke="#222" stroke-width="1" />
<line x1="323.13" y1="445.4" x2="323.13" y2="448.4" stroke="#222" stroke-width="1" />
<line x1="323.13" y1="272.3" x2="323.13" y2="275.3" stroke="#222" stroke-width="1" />
<line x1="354.15" y1="445.4" x2="354.15" y2="448.4" stroke="#222" stroke-width="1" />
<line x1="354.15" y1="272.3" x2="354.15" y2="275.3" stroke="#222" stroke-width="1" />
<line x1="385.17" y1="445.4" x2="385.17" y2="448.4" stroke="#222" stroke-width="1" />
<line x1="385.17" y1="272.3" x2="385.17" y2="275.3" stroke="#222" stroke-width="1" />
<line x1="416.19" y1="445.4" x2="416.19" y2="448.4" stroke="#222" stroke-width="1" />
<line x1="416.19" y1="272.3" x2="416.19" y2="275.3" stroke="#222" stroke-width="1" />
<text x="266.2" y="441.1" font-size="10" fill="#1a1a1a" text-anchor="end" font-weight="normal" font-style="normal" >0</text>
<text x="266.2" y="409.7" font-size="10" fill="#1a1a1a" text-anchor="end" font-weight="normal" font-style="normal" >20</text>
<text x="266.2" y="378.3" font-size="10" fill="#1a1a1a" text-anchor="end" font-weight="normal" font-style="normal" >40</text>
<text x="266.2" y="346.9" font-size="10" fill="#1a1a1a" text-anchor="end" font-weight="normal" font-style="normal" >60</text>
<text x="266.2" y="315.5" font-size="10" fill="#1a1a1a" text-anchor="end" font-weight="normal" font-style="normal" >80</text>
<text x="266.2" y="284.1" font-size="10" fill="#1a1a1a" text-anchor="end" font-weight="normal" font-style="normal" >100</text>
<text x="276.6" y="463.9" font-size="10" fill="#1a1a1a" text-anchor="middle" font-weight="normal" font-style="normal" >0</text>
<text x="307.62" y="463.9" font-size="10" fill="#1a1a1a" text-anchor="middle" font-weight="normal" font-style="normal" >5</text>
<text x="338.64" y="463.9" font-size="10" fill="#1a1a1a" text-anchor="middle" font-weight="normal" font-style="normal" >10</text>
<text x="369.66" y="463.9" font-size="10" fill="#1a1a1a" text-anchor="middle" font-weight="normal" font-style="normal" >15</text>
<text x="400.68" y="463.9" font-size="10" fill="#1a1a1a" text-anchor="middle" font-weight="normal" font-style="normal" >20</text>
<text x="431.7" y="463.9" font-size="10" fill="#1a1a1a" text-anchor="middle" font-weight="normal" font-style="normal" >25</text>
<text x="354" y="478.2" font-size="10" fill="#1a1a1a" text-anchor="middle" font-weight="normal" font-style="normal" >Training epoch (×40,000)</text>
<text transform="translate(240.8,361.5) rotate(-90)" font-size="10" fill="#1a1a1a" text-anchor="middle">Recognition rate (%)</text>
<circle cx="282.8" cy="302.79" r="4.3" fill="none" stroke="#3a3aff" stroke-width="1"/>
<circle cx="289.01" cy="301.69" r="4.3" fill="none" stroke="#3a3aff" stroke-width="1"/>
<circle cx="295.21" cy="299.97" r="4.3" fill="none" stroke="#3a3aff" stroke-width="1"/>
<circle cx="301.42" cy="298.87" r="4.3" fill="none" stroke="#3a3aff" stroke-width="1"/>
<circle cx="307.62" cy="299.97" r="4.3" fill="none" stroke="#3a3aff" stroke-width="1"/>
<circle cx="313.82" cy="298.71" r="4.3" fill="none" stroke="#3a3aff" stroke-width="1"/>
<circle cx="320.03" cy="296.36" r="4.3" fill="none" stroke="#3a3aff" stroke-width="1"/>
<circle cx="326.23" cy="296.67" r="4.3" fill="none" stroke="#3a3aff" stroke-width="1"/>
<circle cx="332.44" cy="304.84" r="4.3" fill="none" stroke="#3a3aff" stroke-width="1"/>
<circle cx="338.64" cy="296.2" r="4.3" fill="none" stroke="#3a3aff" stroke-width="1"/>
<circle cx="344.84" cy="297.93" r="4.3" fill="none" stroke="#3a3aff" stroke-width="1"/>
<circle cx="351.05" cy="294.94" r="4.3" fill="none" stroke="#3a3aff" stroke-width="1"/>
<circle cx="357.25" cy="298.56" r="4.3" fill="none" stroke="#3a3aff" stroke-width="1"/>
<circle cx="363.46" cy="297.14" r="4.3" fill="none" stroke="#3a3aff" stroke-width="1"/>
<circle cx="369.66" cy="293.53" r="4.3" fill="none" stroke="#3a3aff" stroke-width="1"/>
<circle cx="375.86" cy="296.36" r="4.3" fill="none" stroke="#3a3aff" stroke-width="1"/>
<circle cx="382.07" cy="297.77" r="4.3" fill="none" stroke="#3a3aff" stroke-width="1"/>
<circle cx="388.27" cy="293.53" r="4.3" fill="none" stroke="#3a3aff" stroke-width="1"/>
<circle cx="394.48" cy="297.14" r="4.3" fill="none" stroke="#3a3aff" stroke-width="1"/>
<circle cx="400.68" cy="295.73" r="4.3" fill="none" stroke="#3a3aff" stroke-width="1"/>
<circle cx="406.88" cy="292.75" r="4.3" fill="none" stroke="#3a3aff" stroke-width="1"/>
<circle cx="413.09" cy="294.94" r="4.3" fill="none" stroke="#3a3aff" stroke-width="1"/>
<circle cx="419.29" cy="294.94" r="4.3" fill="none" stroke="#3a3aff" stroke-width="1"/>
<circle cx="425.5" cy="292.75" r="4.3" fill="none" stroke="#3a3aff" stroke-width="1"/>
<circle cx="431.7" cy="296.36" r="4.3" fill="none" stroke="#3a3aff" stroke-width="1"/>
<circle cx="276.6" cy="421.8" r="4.3" fill="none" stroke="#a040ff" stroke-width="1"/>
<circle cx="282.8" cy="307.5" r="4.3" fill="none" stroke="#a040ff" stroke-width="1"/>
<circle cx="289.01" cy="305.62" r="4.3" fill="none" stroke="#a040ff" stroke-width="1"/>
<circle cx="295.21" cy="305.78" r="4.3" fill="none" stroke="#a040ff" stroke-width="1"/>
<circle cx="301.42" cy="303.74" r="4.3" fill="none" stroke="#a040ff" stroke-width="1"/>
<circle cx="307.62" cy="304.36" r="4.3" fill="none" stroke="#a040ff" stroke-width="1"/>
<circle cx="313.82" cy="303.74" r="4.3" fill="none" stroke="#a040ff" stroke-width="1"/>
<circle cx="320.03" cy="303.74" r="4.3" fill="none" stroke="#a040ff" stroke-width="1"/>
<circle cx="326.23" cy="303.11" r="4.3" fill="none" stroke="#a040ff" stroke-width="1"/>
<circle cx="332.44" cy="303.26" r="4.3" fill="none" stroke="#a040ff" stroke-width="1"/>
<circle cx="338.64" cy="301.85" r="4.3" fill="none" stroke="#a040ff" stroke-width="1"/>
<circle cx="344.84" cy="305.62" r="4.3" fill="none" stroke="#a040ff" stroke-width="1"/>
<circle cx="351.05" cy="301.85" r="4.3" fill="none" stroke="#a040ff" stroke-width="1"/>
<circle cx="357.25" cy="305.78" r="4.3" fill="none" stroke="#a040ff" stroke-width="1"/>
<circle cx="363.46" cy="303.42" r="4.3" fill="none" stroke="#a040ff" stroke-width="1"/>
<circle cx="369.66" cy="297.77" r="4.3" fill="none" stroke="#a040ff" stroke-width="1"/>
<circle cx="375.86" cy="300.6" r="4.3" fill="none" stroke="#a040ff" stroke-width="1"/>
<circle cx="382.07" cy="298.4" r="4.3" fill="none" stroke="#a040ff" stroke-width="1"/>
<circle cx="388.27" cy="296.99" r="4.3" fill="none" stroke="#a040ff" stroke-width="1"/>
<circle cx="394.48" cy="302.79" r="4.3" fill="none" stroke="#a040ff" stroke-width="1"/>
<circle cx="400.68" cy="299.18" r="4.3" fill="none" stroke="#a040ff" stroke-width="1"/>
<circle cx="406.88" cy="295.57" r="4.3" fill="none" stroke="#a040ff" stroke-width="1"/>
<circle cx="413.09" cy="298.4" r="4.3" fill="none" stroke="#a040ff" stroke-width="1"/>
<circle cx="419.29" cy="297.77" r="4.3" fill="none" stroke="#a040ff" stroke-width="1"/>
<circle cx="425.5" cy="294.79" r="4.3" fill="none" stroke="#a040ff" stroke-width="1"/>
<circle cx="431.7" cy="296.99" r="4.3" fill="none" stroke="#a040ff" stroke-width="1"/>
<circle cx="282.8" cy="344.24" r="4.3" fill="none" stroke="#ff3030" stroke-width="1"/>
<circle cx="289.01" cy="329.33" r="4.3" fill="none" stroke="#ff3030" stroke-width="1"/>
<circle cx="295.21" cy="326.19" r="4.3" fill="none" stroke="#ff3030" stroke-width="1"/>
<circle cx="301.42" cy="315.04" r="4.3" fill="none" stroke="#ff3030" stroke-width="1"/>
<circle cx="307.62" cy="323.99" r="4.3" fill="none" stroke="#ff3030" stroke-width="1"/>
<circle cx="313.82" cy="312.21" r="4.3" fill="none" stroke="#ff3030" stroke-width="1"/>
<circle cx="320.03" cy="318.49" r="4.3" fill="none" stroke="#ff3030" stroke-width="1"/>
<circle cx="326.23" cy="314.73" r="4.3" fill="none" stroke="#ff3030" stroke-width="1"/>
<circle cx="332.44" cy="313.47" r="4.3" fill="none" stroke="#ff3030" stroke-width="1"/>
<circle cx="338.64" cy="311.59" r="4.3" fill="none" stroke="#ff3030" stroke-width="1"/>
<circle cx="344.84" cy="322.26" r="4.3" fill="none" stroke="#ff3030" stroke-width="1"/>
<circle cx="351.05" cy="315.82" r="4.3" fill="none" stroke="#ff3030" stroke-width="1"/>
<circle cx="357.25" cy="312.37" r="4.3" fill="none" stroke="#ff3030" stroke-width="1"/>
<circle cx="363.46" cy="313" r="4.3" fill="none" stroke="#ff3030" stroke-width="1"/>
<circle cx="369.66" cy="313.78" r="4.3" fill="none" stroke="#ff3030" stroke-width="1"/>
<circle cx="375.86" cy="321.01" r="4.3" fill="none" stroke="#ff3030" stroke-width="1"/>
<circle cx="382.07" cy="320.38" r="4.3" fill="none" stroke="#ff3030" stroke-width="1"/>
<circle cx="388.27" cy="308.76" r="4.3" fill="none" stroke="#ff3030" stroke-width="1"/>
<circle cx="394.48" cy="311.59" r="4.3" fill="none" stroke="#ff3030" stroke-width="1"/>
<circle cx="400.68" cy="313.78" r="4.3" fill="none" stroke="#ff3030" stroke-width="1"/>
<circle cx="406.88" cy="304.36" r="4.3" fill="none" stroke="#ff3030" stroke-width="1"/>
<circle cx="413.09" cy="326.19" r="4.3" fill="none" stroke="#ff3030" stroke-width="1"/>
<circle cx="419.29" cy="309.39" r="4.3" fill="none" stroke="#ff3030" stroke-width="1"/>
<circle cx="425.5" cy="315.2" r="4.3" fill="none" stroke="#ff3030" stroke-width="1"/>
<circle cx="431.7" cy="312.37" r="4.3" fill="none" stroke="#ff3030" stroke-width="1"/>
<polyline points="276.6,421.8 282.8,305.15 289.01,302.95 295.21,301.54 301.42,300.44 307.62,300.91 313.82,299.97 320.03,297.93 326.23,297.93 332.44,300.91 338.64,297.61 344.84,299.03 351.05,297.77 357.25,299.97 363.46,297.77 369.66,294.94 375.86,297.77 382.07,298.56 388.27,295.73 394.48,298.56 400.68,296.36 406.88,294.16 413.09,297.14 419.29,299.34 425.5,297.14 431.7,298.56" fill="none" stroke="#111" stroke-width="1" />
<polyline points="276.6,421.8 282.8,307.5 289.01,305.62 295.21,305.78 301.42,303.74 307.62,304.36 313.82,303.74 320.03,303.74 326.23,303.11 332.44,303.26 338.64,301.85 344.84,305.62 351.05,301.85 357.25,305.78 363.46,303.42 369.66,297.77 375.86,300.6 382.07,298.4 388.27,296.99 394.48,302.79 400.68,299.18 406.88,295.57 413.09,298.4 419.29,297.77 425.5,294.79 431.7,296.99" fill="none" stroke="#111" stroke-width="1" />
<polyline points="276.6,421.8 282.8,344.24 289.01,329.33 295.21,326.19 301.42,315.04 307.62,323.99 313.82,312.21 320.03,318.49 326.23,314.73 332.44,313.47 338.64,311.59 344.84,322.26 351.05,315.82 357.25,312.37 363.46,313 369.66,313.78 375.86,321.01 382.07,320.38 388.27,308.76 394.48,311.59 400.68,313.78 406.88,304.36 413.09,326.19 419.29,309.39 425.5,315.2 431.7,312.37" fill="none" stroke="#111" stroke-width="1" />
<text x="393.3" y="287.2" font-size="10" fill="#1818ff" text-anchor="start" font-weight="normal" font-style="normal" >92.5%</text>
<text x="397.3" y="343.2" font-size="10" fill="#ff1515" text-anchor="start" font-weight="normal" font-style="normal" >85.7%</text>
<circle cx="362.5" cy="400" r="4.3" fill="none" stroke="#3a3aff" stroke-width="1"/>
<text x="370.6" y="403.6" font-size="10" fill="#1818ff" text-anchor="start" font-weight="normal" font-style="normal" >Maximum</text>
<circle cx="362.5" cy="415.3" r="4.3" fill="none" stroke="#a040ff" stroke-width="1"/>
<text x="370.6" y="418.9" font-size="10" fill="#9020f0" text-anchor="start" font-weight="normal" font-style="normal" >Average</text>
<circle cx="362.5" cy="430.6" r="4.3" fill="none" stroke="#ff3030" stroke-width="1"/>
<text x="370.6" y="434.2" font-size="10" fill="#ff1515" text-anchor="start" font-weight="normal" font-style="normal" >Minimum</text>
<text x="475.1" y="270.2" font-size="13.6" fill="#1a1a1a" text-anchor="start" font-weight="bold" font-style="normal" >g</text>
<rect x="513.1" y="272.7" width="164.4" height="172.8" fill="none" stroke="#222" stroke-width="1"/>
<line x1="513.1" y1="437.5" x2="520.1" y2="437.5" stroke="#222" stroke-width="1" />
<line x1="677.5" y1="437.5" x2="670.5" y2="437.5" stroke="#222" stroke-width="1" />
<line x1="513.1" y1="421.8" x2="516.5" y2="421.8" stroke="#222" stroke-width="1" />
<line x1="677.5" y1="421.8" x2="674.1" y2="421.8" stroke="#222" stroke-width="1" />
<line x1="513.1" y1="406.1" x2="520.1" y2="406.1" stroke="#222" stroke-width="1" />
<line x1="677.5" y1="406.1" x2="670.5" y2="406.1" stroke="#222" stroke-width="1" />
<line x1="513.1" y1="390.4" x2="516.5" y2="390.4" stroke="#222" stroke-width="1" />
<line x1="677.5" y1="390.4" x2="674.1" y2="390.4" stroke="#222" stroke-width="1" />
<line x1="513.1" y1="374.7" x2="520.1" y2="374.7" stroke="#222" stroke-width="1" />
<line x1="677.5" y1="374.7" x2="670.5" y2="374.7" stroke="#222" stroke-width="1" />
<line x1="513.1" y1="359" x2="516.5" y2="359" stroke="#222" stroke-width="1" />
<line x1="677.5" y1="359" x2="674.1" y2="359" stroke="#222" stroke-width="1" />
<line x1="513.1" y1="343.3" x2="520.1" y2="343.3" stroke="#222" stroke-width="1" />
<line x1="677.5" y1="343.3" x2="670.5" y2="343.3" stroke="#222" stroke-width="1" />
<line x1="513.1" y1="327.6" x2="516.5" y2="327.6" stroke="#222" stroke-width="1" />
<line x1="677.5" y1="327.6" x2="674.1" y2="327.6" stroke="#222" stroke-width="1" />
<line x1="513.1" y1="311.9" x2="520.1" y2="311.9" stroke="#222" stroke-width="1" />
<line x1="677.5" y1="311.9" x2="670.5" y2="311.9" stroke="#222" stroke-width="1" />
<line x1="513.1" y1="296.2" x2="516.5" y2="296.2" stroke="#222" stroke-width="1" />
<line x1="677.5" y1="296.2" x2="674.1" y2="296.2" stroke="#222" stroke-width="1" />
<line x1="513.1" y1="280.5" x2="520.1" y2="280.5" stroke="#222" stroke-width="1" />
<line x1="677.5" y1="280.5" x2="670.5" y2="280.5" stroke="#222" stroke-width="1" />
<line x1="513.1" y1="445.5" x2="513.1" y2="452.5" stroke="#222" stroke-width="1" />
<line x1="513.1" y1="272.7" x2="513.1" y2="279.7" stroke="#222" stroke-width="1" />
<line x1="543" y1="445.5" x2="543" y2="452.5" stroke="#222" stroke-width="1" />
<line x1="543" y1="272.7" x2="543" y2="279.7" stroke="#222" stroke-width="1" />
<line x1="572.9" y1="445.5" x2="572.9" y2="452.5" stroke="#222" stroke-width="1" />
<line x1="572.9" y1="272.7" x2="572.9" y2="279.7" stroke="#222" stroke-width="1" />
<line x1="602.8" y1="445.5" x2="602.8" y2="452.5" stroke="#222" stroke-width="1" />
<line x1="602.8" y1="272.7" x2="602.8" y2="279.7" stroke="#222" stroke-width="1" />
<line x1="632.7" y1="445.5" x2="632.7" y2="452.5" stroke="#222" stroke-width="1" />
<line x1="632.7" y1="272.7" x2="632.7" y2="279.7" stroke="#222" stroke-width="1" />
<line x1="662.6" y1="445.5" x2="662.6" y2="452.5" stroke="#222" stroke-width="1" />
<line x1="662.6" y1="272.7" x2="662.6" y2="279.7" stroke="#222" stroke-width="1" />
<line x1="528.05" y1="445.5" x2="528.05" y2="448.9" stroke="#222" stroke-width="1" />
<line x1="528.05" y1="272.7" x2="528.05" y2="276.1" stroke="#222" stroke-width="1" />
<line x1="557.95" y1="445.5" x2="557.95" y2="448.9" stroke="#222" stroke-width="1" />
<line x1="557.95" y1="272.7" x2="557.95" y2="276.1" stroke="#222" stroke-width="1" />
<line x1="587.85" y1="445.5" x2="587.85" y2="448.9" stroke="#222" stroke-width="1" />
<line x1="587.85" y1="272.7" x2="587.85" y2="276.1" stroke="#222" stroke-width="1" />
<line x1="617.75" y1="445.5" x2="617.75" y2="448.9" stroke="#222" stroke-width="1" />
<line x1="617.75" y1="272.7" x2="617.75" y2="276.1" stroke="#222" stroke-width="1" />
<line x1="647.65" y1="445.5" x2="647.65" y2="448.9" stroke="#222" stroke-width="1" />
<line x1="647.65" y1="272.7" x2="647.65" y2="276.1" stroke="#222" stroke-width="1" />
<text x="508.7" y="441.1" font-size="10" fill="#1a1a1a" text-anchor="end" font-weight="normal" font-style="normal" >0</text>
<text x="508.7" y="409.7" font-size="10" fill="#1a1a1a" text-anchor="end" font-weight="normal" font-style="normal" >20</text>
<text x="508.7" y="378.3" font-size="10" fill="#1a1a1a" text-anchor="end" font-weight="normal" font-style="normal" >40</text>
<text x="508.7" y="346.9" font-size="10" fill="#1a1a1a" text-anchor="end" font-weight="normal" font-style="normal" >60</text>
<text x="508.7" y="315.5" font-size="10" fill="#1a1a1a" text-anchor="end" font-weight="normal" font-style="normal" >80</text>
<text x="508.7" y="284.1" font-size="10" fill="#1a1a1a" text-anchor="end" font-weight="normal" font-style="normal" >100</text>
<text x="513.1" y="463.9" font-size="10" fill="#1a1a1a" text-anchor="middle" font-weight="normal" font-style="normal" >0</text>
<text x="543" y="463.9" font-size="10" fill="#1a1a1a" text-anchor="middle" font-weight="normal" font-style="normal" >2</text>
<text x="572.9" y="463.9" font-size="10" fill="#1a1a1a" text-anchor="middle" font-weight="normal" font-style="normal" >4</text>
<text x="602.8" y="463.9" font-size="10" fill="#1a1a1a" text-anchor="middle" font-weight="normal" font-style="normal" >6</text>
<text x="632.7" y="463.9" font-size="10" fill="#1a1a1a" text-anchor="middle" font-weight="normal" font-style="normal" >8</text>
<text x="662.6" y="463.9" font-size="10" fill="#1a1a1a" text-anchor="middle" font-weight="normal" font-style="normal" >10</text>
<text x="595.4" y="478.2" font-size="10" fill="#1a1a1a" text-anchor="middle" font-weight="normal" font-style="normal" >Device number</text>
<text transform="translate(484.5,362.5) rotate(-90)" font-size="10" fill="#1a1a1a" text-anchor="middle">Recognition rate (%)</text>
<circle cx="528.05" cy="296.51" r="5.8" fill="none" stroke="#2a2aff" stroke-width="1.2"/>
<circle cx="543" cy="302.32" r="5.8" fill="none" stroke="#2a2aff" stroke-width="1.2"/>
<circle cx="557.95" cy="296.99" r="5.8" fill="none" stroke="#2a2aff" stroke-width="1.2"/>
<circle cx="572.9" cy="299.97" r="5.8" fill="none" stroke="#2a2aff" stroke-width="1.2"/>
<circle cx="587.85" cy="303.42" r="5.8" fill="none" stroke="#2a2aff" stroke-width="1.2"/>
<circle cx="602.8" cy="302.95" r="5.8" fill="none" stroke="#2a2aff" stroke-width="1.2"/>
<circle cx="617.75" cy="302.95" r="5.8" fill="none" stroke="#2a2aff" stroke-width="1.2"/>
<circle cx="632.7" cy="293.06" r="5.8" fill="none" stroke="#2a2aff" stroke-width="1.2"/>
<circle cx="647.65" cy="294.16" r="5.8" fill="none" stroke="#2a2aff" stroke-width="1.2"/>
<circle cx="662.6" cy="294.63" r="5.8" fill="none" stroke="#2a2aff" stroke-width="1.2"/>
<circle cx="528.05" cy="303.89" r="5.8" fill="none" stroke="#000" stroke-width="1.2"/>
<circle cx="543" cy="314.57" r="5.8" fill="none" stroke="#000" stroke-width="1.2"/>
<circle cx="557.95" cy="305.31" r="5.8" fill="none" stroke="#000" stroke-width="1.2"/>
<circle cx="572.9" cy="308.45" r="5.8" fill="none" stroke="#000" stroke-width="1.2"/>
<circle cx="587.85" cy="312.69" r="5.8" fill="none" stroke="#000" stroke-width="1.2"/>
<circle cx="602.8" cy="311.43" r="5.8" fill="none" stroke="#000" stroke-width="1.2"/>
<circle cx="617.75" cy="308.45" r="5.8" fill="none" stroke="#000" stroke-width="1.2"/>
<circle cx="632.7" cy="297.61" r="5.8" fill="none" stroke="#000" stroke-width="1.2"/>
<circle cx="647.65" cy="298.71" r="5.8" fill="none" stroke="#000" stroke-width="1.2"/>
<circle cx="662.6" cy="294.63" r="5.8" fill="none" stroke="#000" stroke-width="1.2"/>
<polyline points="528.05,296.51 543,302.32 557.95,296.99 572.9,299.97 587.85,303.42 602.8,302.95 617.75,302.95 632.7,293.06 647.65,294.16 662.6,294.63" fill="none" stroke="#1a1aff" stroke-width="1.8" />
<polyline points="528.05,303.89 543,314.57 557.95,305.31 572.9,308.45 587.85,312.69 602.8,311.43 617.75,308.45 632.7,297.61 647.65,298.71 662.6,294.63" fill="none" stroke="#111" stroke-width="1.8" />
<text x="571" y="291.2" font-size="10" fill="#1818ff" text-anchor="start" font-weight="normal" font-style="normal" >σ = 2.5%</text>
<text x="571" y="334.6" font-size="10" fill="#1a1a1a" text-anchor="start" font-weight="normal" font-style="normal" >σ = 4.2%</text>
<circle cx="595.2" cy="415.3" r="4.2" fill="none" stroke="#3a3aff" stroke-width="1"/>
<text x="603.8" y="418.9" font-size="10" fill="#1818ff" text-anchor="start" font-weight="normal" font-style="normal" >Maximum</text>
<circle cx="595.2" cy="430.3" r="4.2" fill="none" stroke="#333" stroke-width="1"/>
<text x="603.8" y="433.9" font-size="10" fill="#1a1a1a" text-anchor="start" font-weight="normal" font-style="normal" >Last</text>
</svg>
</body></html>
